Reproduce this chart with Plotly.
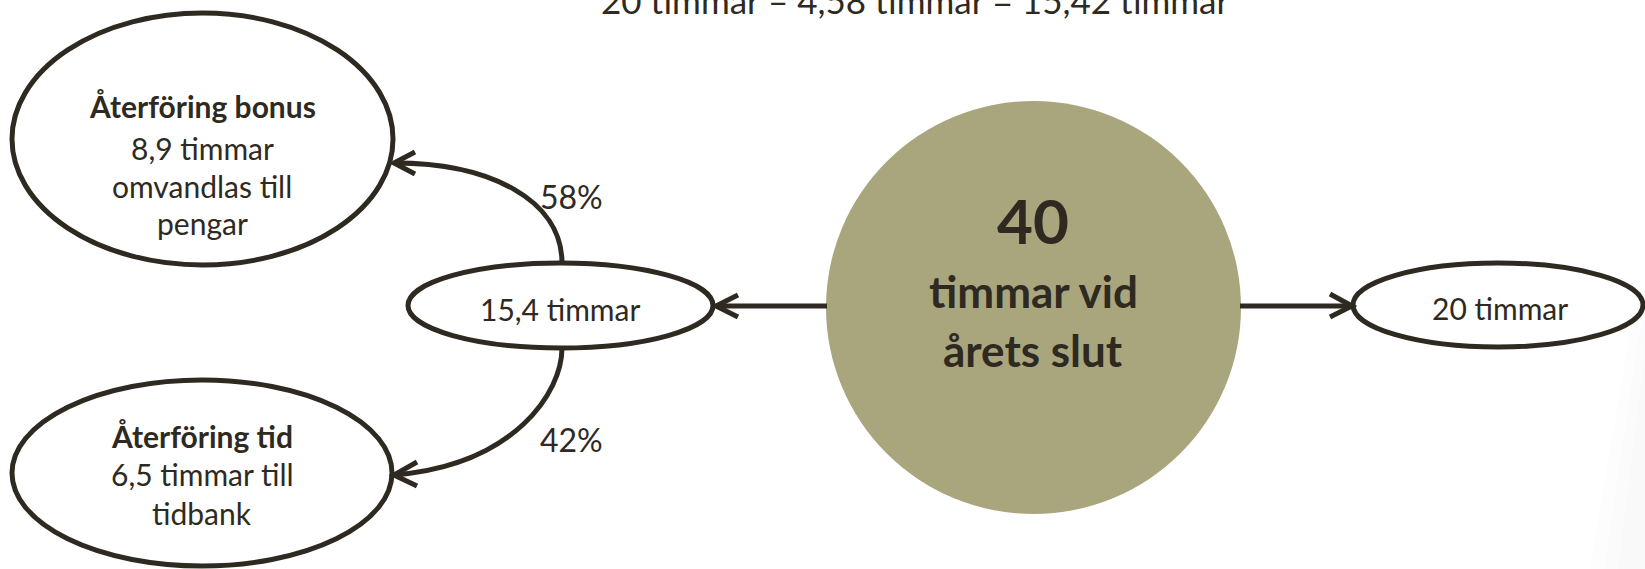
import plotly.graph_objects as go

# ---- data ----
equation_text = "20 timmar – 4,58 timmar = 15,42 timmar"
total_hours = 40
total_caption = ["timmar vid", "årets slut"]
kept_hours = 20
split_hours = 15.4
branch_titles = ["Återföring bonus", "Återföring tid"]
branch_hours = [8.9, 6.5]
branch_shares = [58, 42]
branch_lines = [["{h} timmar", "omvandlas till", "pengar"],
                ["{h} timmar till", "tidbank"]]


def sv(v):
    return f"{v:.1f}".replace(".", ",") if isinstance(v, float) else str(v)


W, H = 1645, 569
INK = "#2e2a21"
FILL = "#a9a67e"
FONT = "Lato"

fig = go.Figure()
fig.add_trace(go.Scatter(x=[0, W], y=[0, H], mode="markers",
                         marker=dict(opacity=0), hoverinfo="skip", showlegend=False))

shapes = []
ann = []

# very faint page shadow at right edge
for k, a in enumerate([0.008, 0.008, 0.008]):
    off = k * 14
    shapes.append(dict(type="path",
                       path=f"M {1630 + off * 0.5},{330 + off} L 1645,{300 + off} L 1645,569 L {1590 + off},569 Z",
                       fillcolor=f"rgba(0,0,0,{a})", line=dict(width=0), layer="below"))

# big circle
shapes.append(dict(type="circle", x0=826, x1=1241, y0=101, y1=514,
                   fillcolor=FILL, line=dict(width=0)))

# ellipses
ell = [(12, 393, 13, 265), (12, 392, 380, 566), (408, 713, 263, 348), (1353, 1643, 263, 347)]
for x0, x1, y0, y1 in ell:
    shapes.append(dict(type="circle", x0=x0, x1=x1, y0=y0, y1=y1,
                       fillcolor="white", line=dict(color=INK, width=5)))

line = dict(color=INK, width=5)
# straight arrows
shapes.append(dict(type="line", x0=827, y0=306, x1=717, y1=306, line=line))
shapes.append(dict(type="path", path="M 738,295 L 716,306 L 738,317", line=line))
shapes.append(dict(type="line", x0=1240, y0=306, x1=1349, y1=306, line=line))
shapes.append(dict(type="path", path="M 1330,294 L 1352,306 L 1330,317", line=line))
# curved arrows
shapes.append(dict(type="path", path="M 562,263 C 562,200 490,163 395,163", line=line))
shapes.append(dict(type="path", path="M 415,152 L 394,163 L 415,174", line=line))
shapes.append(dict(type="path", path="M 562,348 C 562,392 515,465 394,475", line=line))
shapes.append(dict(type="path", path="M 417,462 L 394,475 L 417,486", line=line))


def text(x, y, s, size, bold=False):
    ann.append(dict(x=x, y=y, text=f"<b>{s}</b>" if bold else s, showarrow=False,
                    xanchor="center", yanchor="middle",
                    font=dict(family=FONT, size=size, color=INK)))


text(915, 0, equation_text, 35)
text(1033, 220, str(total_hours), 62, bold=True)
text(1033, 291, total_caption[0], 44, bold=True)
text(1033, 350, total_caption[1], 44, bold=True)
text(560, 309, f"{sv(split_hours)} timmar", 30)
text(1500, 308, f"{kept_hours} timmar", 30)

# branch texts
tops = [[106, 148, 186, 223], [436, 474, 513]]
for i in range(2):
    ys = tops[i]
    text(202, ys[0], branch_titles[i], 30, bold=True)
    for j, ln in enumerate(branch_lines[i]):
        text(202, ys[j + 1], ln.format(h=sv(branch_hours[i])), 30)

text(571, 196, f"{branch_shares[0]}%", 32)
text(571, 439, f"{branch_shares[1]}%", 32)

fig.update_layout(width=W, height=H, margin=dict(l=0, r=0, t=0, b=0),
                  paper_bgcolor="white", plot_bgcolor="white",
                  xaxis=dict(range=[0, W], visible=False, fixedrange=True),
                  yaxis=dict(range=[H, 0], visible=False, fixedrange=True),
                  shapes=shapes, annotations=ann, showlegend=False)
fig.write_html("out.html", config={"displayModeBar": False},
               post_script="document.body.style.margin='0';")
